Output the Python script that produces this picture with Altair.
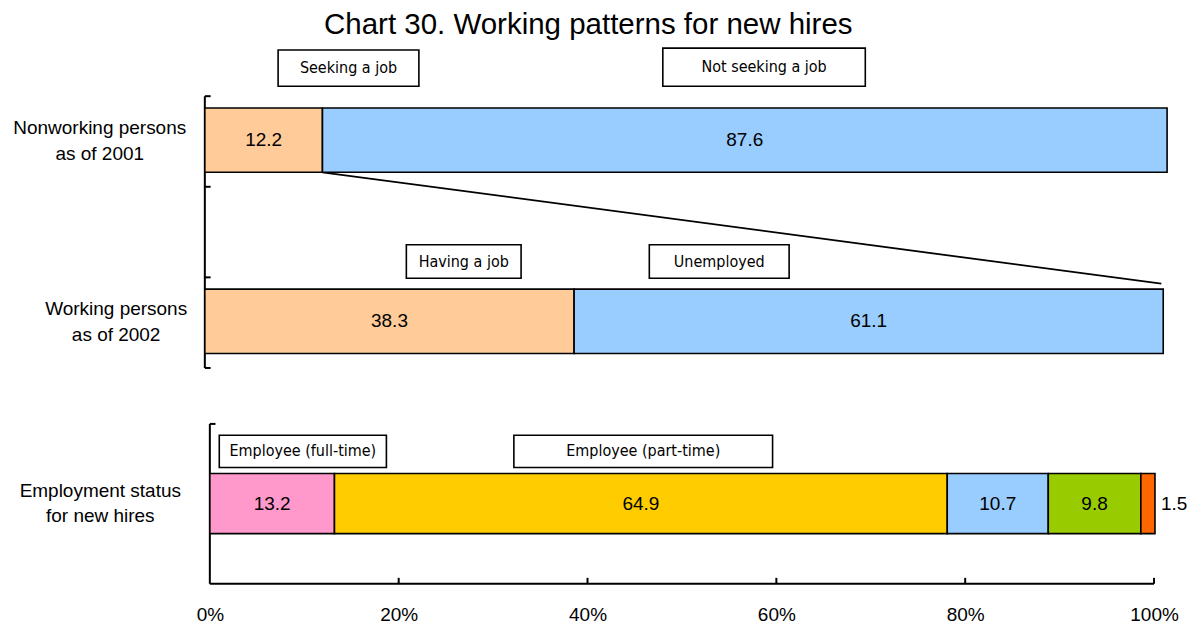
import altair as alt
import pandas as pd

# ---------------- data ----------------
title_text = "Chart 30. Working patterns for new hires"

top_rows = ["Nonworking persons\nas of 2001", "Working persons\nas of 2002"]
top_first_names = ["Seeking a job", "Having a job"]
top_first_values = [12.2, 38.3]
top_second_names = ["Not seeking a job", "Unemployed"]
top_second_values = [87.6, 61.1]

bottom_row = "Employment status\nfor new hires"
bottom_names = ["Employee (full-time)", "Employee (part-time)", "", "", ""]
bottom_values = [13.2, 64.9, 10.7, 9.8, 1.5]

x_tick_values = [0, 20, 40, 60, 80, 100]

# ---------------- styling / layout ----------------
PEACH, SKY = "#FFCC99", "#99CCFF"
bottom_colors = ["#FF99CC", "#FFCC00", "#99CCFF", "#99CC00", "#FF6600"]
FONT = "Liberation Sans"
NARROW = "'Liberation Sans Narrow', 'Arial Narrow', 'DejaVu Sans Condensed', 'Roboto Condensed', 'Liberation Sans', sans-serif"
LABEL_SIZE = 19
BOX_SIZE = 16

TOP_W, TOP_H = 965, 272
BOT_W, BOT_H = 950, 160
top_row_slot = [0, 2]          # rows in a 0..3 vertical domain
bar_off = (0.13, 0.84)
top_label_x = [-10.9, -9.2]    # centre of row labels (top panel units)
bot_label_x = -11.6            # centre of row label (bottom panel units)
BOT_X_MIN = -0.53              # bottom axis starts a little right of top axis
bot_bar = (0.31, 0.686)

# annotation boxes (data units of each panel)
top_boxes = [  # text, x0, x1, y0, y1
    (top_first_names[0], 7.6, 22.2, -0.51, -0.11),
    (top_second_names[0], 47.5, 68.5, -0.53, -0.11),
    (top_first_names[1], 20.9, 32.8, 1.64, 2.01),
    (top_second_names[1], 46.1, 60.6, 1.64, 2.01),
]
bot_boxes = [
    (bottom_names[0], 1.0, 18.7, 0.071, 0.273),
    (bottom_names[1], 32.2, 59.6, 0.071, 0.273),
]
connector = dict(x=top_first_values[0], x2=99.2, y=top_row_slot[0] + bar_off[1], y2=2.07)

# ---------------- tables ----------------
rows = []
for i, r in enumerate(top_rows):
    s = top_row_slot[i]
    a, b = top_first_values[i], top_second_values[i]
    rows.append(dict(row=r, start=0, end=a, mid=a / 2, label=f"{a:.1f}", color=PEACH,
                     y0=s + bar_off[0], y1=s + bar_off[1], yc=s + sum(bar_off) / 2))
    rows.append(dict(row=r, start=a, end=a + b, mid=a + b / 2, label=f"{b:.1f}", color=SKY,
                     y0=s + bar_off[0], y1=s + bar_off[1], yc=s + sum(bar_off) / 2))
top_df = pd.DataFrame(rows)
top_lab_df = pd.DataFrame(dict(text=top_rows, lx=top_label_x,
                               yc=[s + sum(bar_off) / 2 for s in top_row_slot]))
top_box_df = pd.DataFrame(top_boxes, columns=["text", "x0", "x1", "y0", "y1"])
top_box_df["xm"] = (top_box_df.x0 + top_box_df.x1) / 2
top_box_df["ym"] = (top_box_df.y0 + top_box_df.y1) / 2

cum = 0
brows = []
for v, c in zip(bottom_values, bottom_colors):
    brows.append(dict(start=cum, end=cum + v, mid=cum + v / 2, label=f"{v:.1f}", color=c,
                      inside=int(v >= 3), y0=bot_bar[0], y1=bot_bar[1], yc=sum(bot_bar) / 2))
    cum += v
bot_df = pd.DataFrame(brows)
bot_box_df = pd.DataFrame(bot_boxes, columns=["text", "x0", "x1", "y0", "y1"])
bot_box_df["xm"] = (bot_box_df.x0 + bot_box_df.x1) / 2
bot_box_df["ym"] = (bot_box_df.y0 + bot_box_df.y1) / 2

# ---------------- top panel ----------------
xs = alt.Scale(domain=[0, 100], nice=False, zero=False)
ys = alt.Scale(domain=[0, 3], reverse=True, nice=False, zero=False)

def X(f): return alt.X(f, type="quantitative", scale=xs, axis=None)
def Y(f): return alt.Y(f, type="quantitative", scale=ys, axis=None)

t_axis = alt.Chart(pd.DataFrame(dict(x=[0], a=[0], b=[3]))).mark_rule(color="black", strokeWidth=2).encode(
    x=X("x"), y=Y("a"), y2="b")
t_ticks = alt.Chart(pd.DataFrame(dict(x=[0] * 4, x2=[0.6] * 4, t=[0, 1, 2, 3]))).mark_rule(
    color="black", strokeWidth=2).encode(y=Y("t"), x=X("x"), x2="x2")
t_bars = alt.Chart(top_df).mark_bar(stroke="black", strokeWidth=1.6).encode(
    x=X("start"), x2="end", y=Y("y0"), y2="y1", color=alt.Color("color:N", scale=None))
t_vals = alt.Chart(top_df).mark_text(font=FONT, fontSize=LABEL_SIZE, color="black").encode(
    x=X("mid"), y=Y("yc"), text="label:N")
t_conn = alt.Chart(pd.DataFrame([connector])).mark_rule(color="black", strokeWidth=1.8).encode(
    x=X("x"), x2="x2", y=Y("y"), y2="y2")
t_boxes = alt.Chart(top_box_df).mark_rect(fill="white", stroke="black", strokeWidth=1.6).encode(
    x=X("x0"), x2="x1", y=Y("y0"), y2="y1")
t_btext = alt.Chart(top_box_df).mark_text(font=NARROW, fontSize=BOX_SIZE, color="black").encode(
    x=X("xm"), y=Y("ym"), text="text:N")
t_lab = alt.Chart(top_lab_df).mark_text(font=FONT, fontSize=LABEL_SIZE, color="black",
                                        align="center", lineBreak="\n", lineHeight=26, dy=-12).encode(
    x=X("lx"), y=Y("yc"), text="text:N")

top = alt.layer(t_axis, t_ticks, t_conn, t_bars, t_vals, t_boxes, t_btext, t_lab).properties(
    width=TOP_W, height=TOP_H)

# ---------------- bottom panel ----------------
bxs = alt.Scale(domain=[BOT_X_MIN, 100], nice=False, zero=False)
bys = alt.Scale(domain=[0, 1], reverse=True, nice=False, zero=False)
x_axis = alt.Axis(values=x_tick_values, labelExpr="datum.value + '%'", domain=False,
                  ticks=False, grid=False, labelFont=FONT, labelFontSize=LABEL_SIZE,
                  labelColor="black", labelPadding=22, labelFlush=False, title=None)

def BX(f): return alt.X(f, type="quantitative", scale=bxs, axis=x_axis)
def BY(f): return alt.Y(f, type="quantitative", scale=bys, axis=None)

b_axis_y = alt.Chart(pd.DataFrame(dict(x=[0], a=[0], b=[1]))).mark_rule(color="black", strokeWidth=2).encode(
    x=BX("x"), y=BY("a"), y2="b")
b_tick_y = alt.Chart(pd.DataFrame(dict(x=[0], x2=[0.6], y=[0]))).mark_rule(color="black", strokeWidth=2).encode(
    x=BX("x"), x2="x2", y=BY("y"))
b_axis_x = alt.Chart(pd.DataFrame(dict(x=[0], x2=[100], y=[1]))).mark_rule(color="black", strokeWidth=2).encode(
    x=BX("x"), x2="x2", y=BY("y"))
b_ticks_x = alt.Chart(pd.DataFrame(dict(x=x_tick_values[1:], y=[1] * 5, y2=[0.963] * 5))).mark_rule(
    color="black", strokeWidth=2).encode(x=BX("x"), y=BY("y"), y2="y2")
b_bars = alt.Chart(bot_df).mark_bar(stroke="black", strokeWidth=1.6).encode(
    x=BX("start"), x2="end", y=BY("y0"), y2="y1", color=alt.Color("color:N", scale=None))
b_vals_in = alt.Chart(bot_df).transform_filter("datum.inside == 1").mark_text(
    font=FONT, fontSize=LABEL_SIZE, color="black").encode(x=BX("mid"), y=BY("yc"), text="label:N")
b_vals_out = alt.Chart(bot_df).transform_filter("datum.inside == 0").mark_text(
    font=FONT, fontSize=LABEL_SIZE, color="black", align="left", dx=6).encode(
    x=BX("end"), y=BY("yc"), text="label:N")
b_boxes = alt.Chart(bot_box_df).mark_rect(fill="white", stroke="black", strokeWidth=1.6).encode(
    x=BX("x0"), x2="x1", y=BY("y0"), y2="y1")
b_btext = alt.Chart(bot_box_df).mark_text(font=NARROW, fontSize=BOX_SIZE, color="black").encode(
    x=BX("xm"), y=BY("ym"), text="text:N")
b_lab = alt.Chart(pd.DataFrame(dict(text=[bottom_row], lx=[bot_label_x], yc=[sum(bot_bar) / 2]))).mark_text(
    font=FONT, fontSize=LABEL_SIZE, color="black", align="center", lineBreak="\n", lineHeight=26, dy=-13).encode(
    x=BX("lx"), y=BY("yc"), text="text:N")

bottom = alt.layer(b_axis_y, b_tick_y, b_axis_x, b_ticks_x, b_bars, b_vals_in, b_vals_out,
                   b_boxes, b_btext, b_lab).properties(width=BOT_W, height=BOT_H)

chart = alt.vconcat(top, bottom, spacing=54).properties(
    title=alt.Title(title_text, font=FONT, fontSize=29.5, fontWeight="normal", color="black",
                    anchor="middle", offset=7, dx=-12),
    padding={"left": 5, "top": 1, "right": 0, "bottom": 0},
).resolve_scale(x="independent", y="independent").configure_view(stroke=None)

chart.save("out.html", embed_options={"renderer": "svg", "actions": False})
